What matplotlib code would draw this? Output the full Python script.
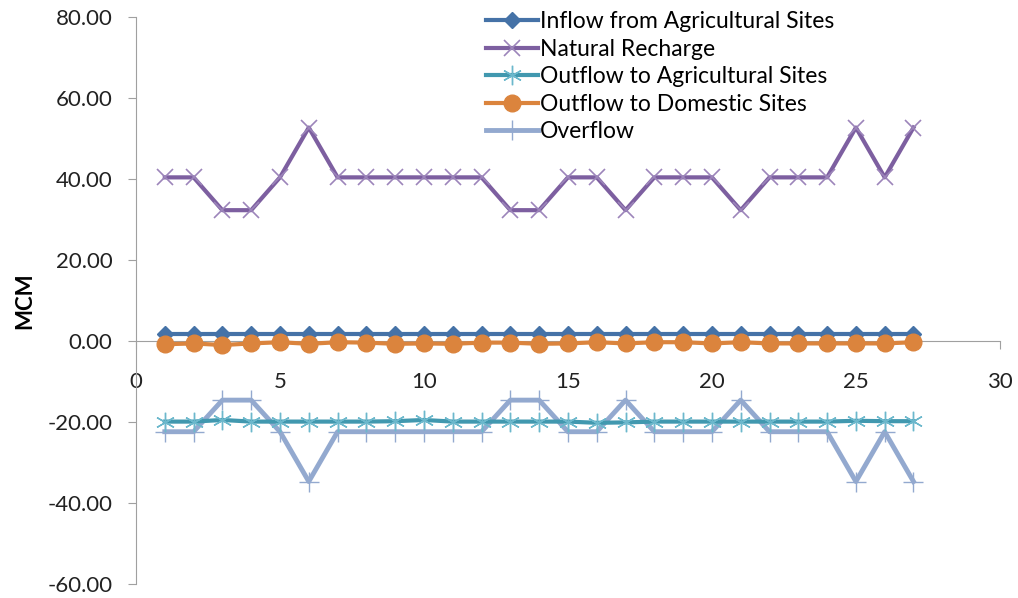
import numpy as np
import matplotlib.pyplot as plt

plt.rcParams['font.family'] = ['Lato', 'DejaVu Sans']

# time steps
steps = list(range(1, 28))

inflow_ag = [1.8] * 27
natural_recharge = [40.4, 40.4, 32.3, 32.3, 40.4, 52.7, 40.4, 40.4, 40.4, 40.4,
                    40.4, 40.4, 32.3, 32.3, 40.4, 40.4, 32.3, 40.4, 40.4, 40.4,
                    32.3, 40.4, 40.4, 40.4, 52.7, 40.4, 52.7]
outflow_ag = [-19.9, -19.9, -19.5, -19.9, -19.9, -19.9, -19.9, -19.9, -19.8, -19.5,
              -19.9, -19.9, -19.9, -19.9, -19.9, -20.2, -20.1, -19.9, -19.9, -19.9,
              -19.9, -19.9, -19.9, -19.9, -19.7, -19.8, -19.8]
outflow_dom = [-0.8, -0.6, -1.0, -0.6, -0.3, -0.7, -0.3, -0.4, -0.7, -0.6,
               -0.7, -0.4, -0.4, -0.7, -0.6, -0.3, -0.6, -0.3, -0.3, -0.6,
               -0.3, -0.6, -0.6, -0.6, -0.6, -0.6, -0.3]
overflow = [-22.4, -22.4, -14.6, -14.6, -22.4, -34.7, -22.4, -22.4, -22.4, -22.4,
            -22.4, -22.4, -14.6, -14.6, -22.4, -22.4, -14.6, -22.4, -22.4, -22.4,
            -14.6, -22.4, -22.4, -22.4, -34.7, -22.4, -34.7]

fig = plt.figure(figsize=(10.18, 5.98), dpi=100)
ax = fig.add_axes([0.1336, 0.0234, 0.8486, 0.9482])

ax.plot(steps, inflow_ag, color='#4572A7', lw=3, marker='D', ms=8,
        label='Inflow from Agricultural Sites', zorder=3)
ax.plot(steps, natural_recharge, color='#7D5FA0', lw=3, marker='x', ms=11,
        mew=1.2, mec='#9C85BA', label='Natural Recharge', zorder=3)
ax.plot(steps, outflow_ag, color='#4198AF', lw=3, marker=(6, 2, 0), ms=14,
        mew=1.0, mec='#6CB8CC', label='Outflow to Agricultural Sites', zorder=3)
ax.plot(steps, outflow_dom, color='#DB843D', lw=3, marker='o', ms=12,
        label='Outflow to Domestic Sites', zorder=4)
ax.plot(steps, overflow, color='#93A9CF', lw=3.5, marker='+', ms=15,
        mew=1.0, label='Overflow', zorder=2)

ax.set_xlim(0, 30)
ax.set_ylim(-60, 80)
ax.set_xticks([0, 5, 10, 15, 20, 25, 30])
ax.set_yticks(np.arange(-60, 81, 20))
ax.yaxis.set_major_formatter(plt.FuncFormatter(lambda v, p: f'{v:.2f}'))

for s in ['top', 'right']:
    ax.spines[s].set_visible(False)
ax.spines['bottom'].set_position(('data', 0))
ax.spines['left'].set_color('#A0A0A0')
ax.spines['bottom'].set_color('#A0A0A0')
ax.tick_params(axis='both', colors='#A0A0A0', labelcolor='#222222',
               labelsize=16, length=6)
ax.tick_params(axis='y', pad=11)
ax.tick_params(axis='x', pad=16)

ax.set_ylabel('MCM', fontsize=16, fontweight='bold', labelpad=9)

leg = ax.legend(loc='upper left', bbox_to_anchor=(0.394, 1.026), frameon=False,
                fontsize=16.5, handlelength=2.3, handletextpad=0.06,
                labelspacing=0.28, borderaxespad=0)

fig.savefig('out.png', dpi=100)
